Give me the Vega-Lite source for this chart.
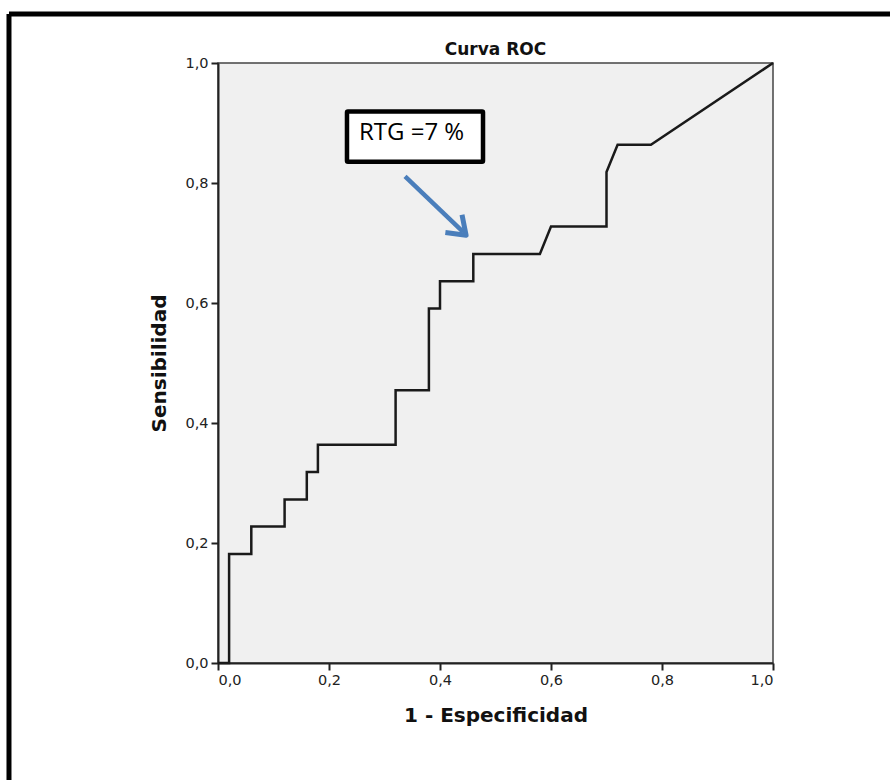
{
  "$schema": "https://vega.github.io/schema/vega-lite/v6.json",
  "autosize": "none",
  "width": 555,
  "height": 600,
  "padding": {"left": 218, "top": 63, "right": 117, "bottom": 117},
  "background": "white",
  "config": {
    "view": {"fill": "#f0f0f0", "stroke": "#444", "strokeWidth": 1.5},
    "axis": {
      "grid": false,
      "domainColor": "#222",
      "domainWidth": 2,
      "tickColor": "#222",
      "tickWidth": 2,
      "tickSize": 7,
      "labelFont": "DejaVu Sans",
      "labelFontSize": 14.5,
      "labelColor": "#222",
      "titleFont": "DejaVu Sans",
      "titleFontSize": 20,
      "titleFontWeight": "bold",
      "titleColor": "#111"
    }
  },
  "datasets": {
    "roc": [
      {"i": 0, "fpr": 0.0, "sens": 0.0},
      {"i": 1, "fpr": 0.02, "sens": 0.0},
      {"i": 2, "fpr": 0.02, "sens": 0.1818},
      {"i": 3, "fpr": 0.06, "sens": 0.1818},
      {"i": 4, "fpr": 0.06, "sens": 0.2273},
      {"i": 5, "fpr": 0.12, "sens": 0.2273},
      {"i": 6, "fpr": 0.12, "sens": 0.2727},
      {"i": 7, "fpr": 0.16, "sens": 0.2727},
      {"i": 8, "fpr": 0.16, "sens": 0.3182},
      {"i": 9, "fpr": 0.18, "sens": 0.3182},
      {"i": 10, "fpr": 0.18, "sens": 0.3636},
      {"i": 11, "fpr": 0.32, "sens": 0.3636},
      {"i": 12, "fpr": 0.32, "sens": 0.4545},
      {"i": 13, "fpr": 0.38, "sens": 0.4545},
      {"i": 14, "fpr": 0.38, "sens": 0.5909},
      {"i": 15, "fpr": 0.40, "sens": 0.5909},
      {"i": 16, "fpr": 0.40, "sens": 0.6364},
      {"i": 17, "fpr": 0.46, "sens": 0.6364},
      {"i": 18, "fpr": 0.46, "sens": 0.6818},
      {"i": 19, "fpr": 0.58, "sens": 0.6818},
      {"i": 20, "fpr": 0.60, "sens": 0.7273},
      {"i": 21, "fpr": 0.70, "sens": 0.7273},
      {"i": 22, "fpr": 0.70, "sens": 0.8182},
      {"i": 23, "fpr": 0.72, "sens": 0.8636},
      {"i": 24, "fpr": 0.78, "sens": 0.8636},
      {"i": 25, "fpr": 1.0, "sens": 1.0}
    ],
    "arrow": [
      {"i": 0, "fpr": 0.337, "sens": 0.811},
      {"i": 1, "fpr": 0.442, "sens": 0.718}
    ],
    "tip": [{"fpr": 0.447, "sens": 0.713}],
    "box": [{"x1": 0.2324, "x2": 0.4775, "y1": 0.8355, "y2": 0.919, "label": "RTG =7 %", "tx": 0.254, "ty": 0.871}],
    "titleText": [{"x": 0.5, "y": 1.0133, "label": "Curva ROC"}],
    "frameLeft": [{"x": -0.3766, "y1": -0.2, "y2": 1.0817}],
    "frameTop": [{"y": 1.0817, "x1": -0.3766, "x2": 1.22}]
  },
  "layer": [
    {
      "data": {"name": "roc"},
      "mark": {"type": "line", "color": "#1a1a1a", "strokeWidth": 2.5, "strokeJoin": "miter"},
      "encoding": {
        "x": {"field": "fpr", "type": "quantitative", "scale": {"domain": [0, 1]},
              "axis": {"values": [0, 0.2, 0.4, 0.6, 0.8, 1.0], "labelExpr": "replace(format(datum.value, '.1f'), '.', ',')", "title": "1 - Especificidad", "titlePadding": 19, "labelPadding": 3}},
        "y": {"field": "sens", "type": "quantitative", "scale": {"domain": [0, 1]},
              "axis": {"values": [0, 0.2, 0.4, 0.6, 0.8, 1.0], "labelExpr": "replace(format(datum.value, '.1f'), '.', ',')", "title": "Sensibilidad", "titlePadding": 15, "labelPadding": 3}},
        "order": {"field": "i", "type": "quantitative"}
      }
    },
    {
      "data": {"name": "arrow"},
      "mark": {"type": "line", "color": "#4a7ebb", "strokeWidth": 4.5, "strokeCap": "butt"},
      "encoding": {
        "x": {"field": "fpr", "type": "quantitative"},
        "y": {"field": "sens", "type": "quantitative"},
        "order": {"field": "i", "type": "quantitative"}
      }
    },
    {
      "data": {"name": "tip"},
      "mark": {"type": "point", "shape": "M-1,-0.72L0,0L-1,0.72", "filled": false, "stroke": "#4a7ebb", "strokeWidth": 5, "size": 1150, "angle": 43, "opacity": 1, "strokeJoin": "round"},
      "encoding": {
        "x": {"field": "fpr", "type": "quantitative"},
        "y": {"field": "sens", "type": "quantitative"}
      }
    },
    {
      "data": {"name": "box"},
      "mark": {"type": "rect", "fill": "white", "stroke": "black", "strokeWidth": 4.5, "cornerRadius": 1},
      "encoding": {
        "x": {"field": "x1", "type": "quantitative"},
        "x2": {"field": "x2"},
        "y": {"field": "y1", "type": "quantitative"},
        "y2": {"field": "y2"}
      }
    },
    {
      "data": {"name": "box"},
      "mark": {"type": "text", "align": "left", "baseline": "alphabetic", "font": "Open Sans", "fontSize": 24, "color": "black"},
      "encoding": {
        "x": {"field": "tx", "type": "quantitative"},
        "y": {"field": "ty", "type": "quantitative"},
        "text": {"field": "label"}
      }
    },
    {
      "data": {"name": "titleText"},
      "mark": {"type": "text", "align": "center", "baseline": "alphabetic", "font": "DejaVu Sans", "fontWeight": "bold", "fontSize": 17, "color": "#111"},
      "encoding": {
        "x": {"field": "x", "type": "quantitative"},
        "y": {"field": "y", "type": "quantitative"},
        "text": {"field": "label"}
      }
    },
    {
      "data": {"name": "frameLeft"},
      "mark": {"type": "rule", "color": "black", "strokeWidth": 5},
      "encoding": {
        "x": {"field": "x", "type": "quantitative"},
        "y": {"field": "y1", "type": "quantitative"},
        "y2": {"field": "y2"}
      }
    },
    {
      "data": {"name": "frameTop"},
      "mark": {"type": "rule", "color": "black", "strokeWidth": 5},
      "encoding": {
        "y": {"field": "y", "type": "quantitative"},
        "x": {"field": "x1", "type": "quantitative"},
        "x2": {"field": "x2"}
      }
    }
  ]
}
